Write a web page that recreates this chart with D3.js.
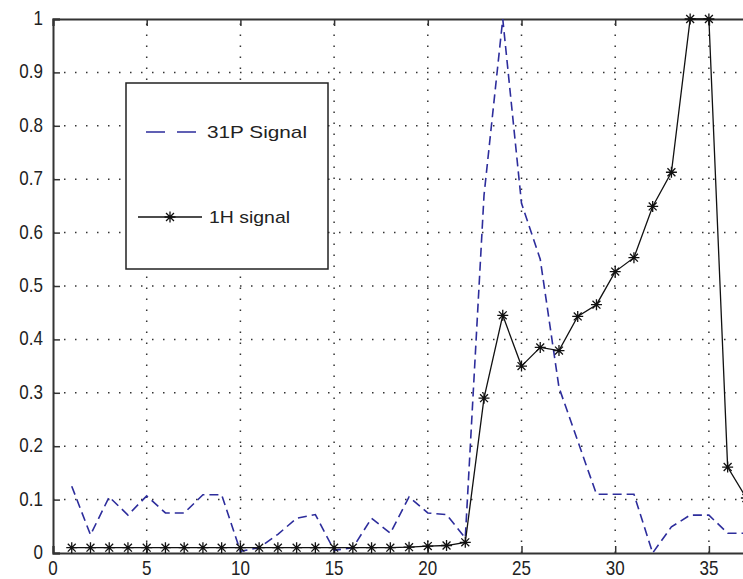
<!DOCTYPE html>
<meta charset="utf-8">
<script src="https://d3js.org/d3.v7.min.js"></script>
<style>
body { margin: 0; background: #fff; }
text { font-family: "Liberation Sans", Arial, sans-serif; fill: #222; }
.grid line { stroke: #333; stroke-width: 1.5; stroke-dasharray: 1.5,9.5; }
</style>
<body>
<script>
// sample index
var xs = d3.range(1, 38);
// 31P signal (blue dashed)
var p31 = [0.125, 0.034, 0.105, 0.071, 0.107, 0.075, 0.075, 0.109, 0.109, 0.003,
           0.01, 0.035, 0.065, 0.072, 0.005, 0.01, 0.065, 0.037, 0.105, 0.075,
           0.072, 0.028, 0.67, 1.0, 0.655, 0.55, 0.31, 0.21, 0.11, 0.11,
           0.11, 0.0, 0.049, 0.071, 0.071, 0.037, 0.037];
// 1H signal (black with stars)
var h1 = [0.01, 0.01, 0.01, 0.01, 0.01, 0.01, 0.01, 0.01, 0.01, 0.01,
          0.01, 0.01, 0.01, 0.01, 0.01, 0.01, 0.01, 0.01, 0.011, 0.013,
          0.014, 0.02, 0.29, 0.445, 0.35, 0.385, 0.379, 0.443, 0.465, 0.527,
          0.553, 0.649, 0.713, 1.0, 1.0, 0.161, 0.103];
var xTicks = d3.range(0, 41, 5);
var xLabels = d3.range(0, 36, 5);   // 40 sits past the cropped right edge
var yTicks = d3.range(0, 11).map(function(i) { return i / 10; });
var legendNames = ['31P Signal', '1H signal'];

var W = 743, H = 579;
var svg = d3.select('body').append('svg')
    .attr('width', W).attr('height', H);

var x = d3.scaleLinear().domain([0, 40]).range([53, 53 + 40 * 18.74]);
var y = d3.scaleLinear().domain([0, 1]).range([553, 19]);

// grid
var grid = svg.append('g').attr('class', 'grid');
grid.selectAll('.gx').data(xTicks.slice(1)).enter().append('line')
    .attr('x1', function(d) { return x(d); }).attr('x2', function(d) { return x(d); })
    .attr('y1', y(0)).attr('y2', y(1));
grid.selectAll('.gy').data(yTicks.slice(1, 10)).enter().append('line')
    .attr('x1', x(0)).attr('x2', x(40))
    .attr('y1', function(d) { return y(d); }).attr('y2', function(d) { return y(d); });

// axes (matlab style: inward ticks, box)
var axB = d3.axisBottom(x).tickValues(xTicks).tickSize(-7).tickFormat('');
var axT = d3.axisTop(x).tickValues(xTicks).tickSize(-7).tickFormat('');
var axL = d3.axisLeft(y).tickValues(yTicks).tickSize(-7).tickFormat('');
svg.append('g').attr('transform', 'translate(0,' + y(0) + ')').call(axB);
svg.append('g').attr('transform', 'translate(0,' + y(1) + ')').call(axT);
svg.append('g').attr('transform', 'translate(' + x(0) + ',0)').call(axL);
svg.selectAll('.domain').attr('stroke', '#333').attr('stroke-width', 2);
svg.selectAll('.tick line').attr('stroke', '#333').attr('stroke-width', 1.5);

// tick labels
svg.selectAll('.xl').data(xLabels).enter().append('text')
    .attr('transform', function(d) { return 'translate(' + x(d) + ',575) scale(0.85,1)'; })
    .attr('text-anchor', 'middle')
    .style('font-size', '20px')
    .text(function(d) { return d; });
svg.selectAll('.yl').data(yTicks).enter().append('text')
    .attr('transform', function(d) { return 'translate(43,' + (y(d) + 6) + ') scale(0.85,1)'; })
    .attr('text-anchor', 'end')
    .style('font-size', '20px')
    .text(function(d) { return d; });

// lines
var line = d3.line().x(function(d) { return x(d[0]); }).y(function(d) { return y(d[1]); });
svg.append('path')
    .datum(xs.map(function(v, i) { return [v, p31[i]]; }))
    .attr('d', line)
    .attr('fill', 'none')
    .attr('stroke', '#2d2d9c')
    .attr('stroke-width', 1.6)
    .attr('stroke-dasharray', '9,5');

var h1pts = xs.map(function(v, i) { return [v, h1[i]]; });
svg.append('path')
    .datum(h1pts)
    .attr('d', line)
    .attr('fill', 'none')
    .attr('stroke', '#111')
    .attr('stroke-width', 1.3);

function star(cx, cy, r) {
    var d = r * 0.72;
    return 'M' + (cx - r) + ',' + cy + 'H' + (cx + r) +
        'M' + cx + ',' + (cy - r) + 'V' + (cy + r) +
        'M' + (cx - d) + ',' + (cy - d) + 'L' + (cx + d) + ',' + (cy + d) +
        'M' + (cx - d) + ',' + (cy + d) + 'L' + (cx + d) + ',' + (cy - d);
}
svg.append('g').selectAll('path').data(h1pts).enter().append('path')
    .attr('d', function(d) { return star(x(d[0]), y(d[1]), 5.5); })
    .attr('stroke', '#111')
    .attr('stroke-width', 1.3)
    .attr('fill', 'none');

// legend
var lg = svg.append('g');
lg.append('rect')
    .attr('x', 126).attr('y', 83).attr('width', 202).attr('height', 186)
    .attr('fill', '#fff').attr('stroke', '#222').attr('stroke-width', 1.5);
lg.append('line')
    .attr('x1', 146).attr('x2', 197).attr('y1', 132).attr('y2', 132)
    .attr('stroke', '#2d2d9c').attr('stroke-width', 1.6)
    .attr('stroke-dasharray', '19,12');
lg.append('line')
    .attr('x1', 138).attr('x2', 202).attr('y1', 217).attr('y2', 217)
    .attr('stroke', '#111').attr('stroke-width', 1.3);
lg.append('path')
    .attr('d', star(170, 217, 5.5))
    .attr('stroke', '#111').attr('stroke-width', 1.3);
lg.append('text')
    .attr('x', 207).attr('y', 138)
    .attr('textLength', 100).attr('lengthAdjust', 'spacingAndGlyphs')
    .style('font-size', '17px')
    .text(legendNames[0]);
lg.append('text')
    .attr('x', 209).attr('y', 223)
    .attr('textLength', 81).attr('lengthAdjust', 'spacingAndGlyphs')
    .style('font-size', '17px')
    .text(legendNames[1]);
</script>
</body>
</html>
